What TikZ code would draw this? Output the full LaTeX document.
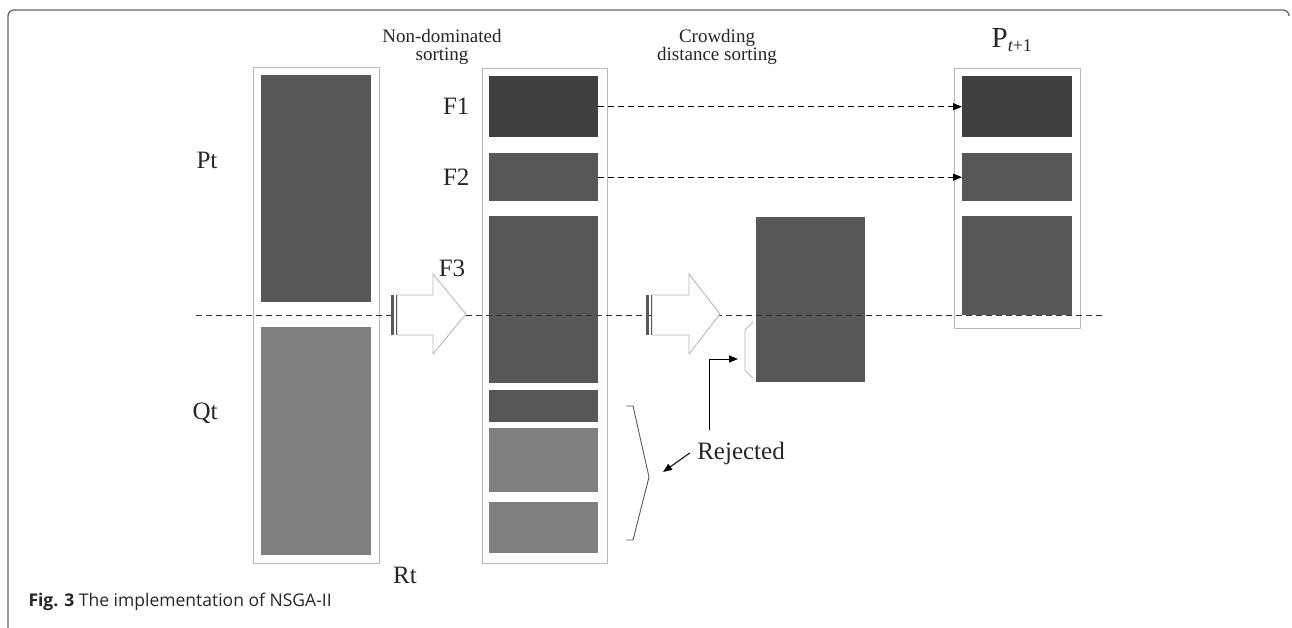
\documentclass[tikz,border=0pt]{standalone}
\usepackage{fontspec}
\setmainfont{Liberation Serif}
\newfontfamily\capfont{Open Sans}
\usetikzlibrary{positioning,arrows.meta}

\tikzset{
  popbox/.style={draw=gray!55, line width=0.9pt, inner sep=0pt, anchor=north west},
  blk/.style={fill=#1, inner sep=0pt, anchor=north west},
  lbl/.style={font=\fontsize{25}{27}\selectfont, text=black!85},
  small/.style={font=\fontsize{19}{22}\selectfont, text=black!85, align=center},
  bigarrow/.style={draw=gray!55, line width=0.9pt, fill=white},
}
\definecolor{darkblk}{HTML}{404040}
\definecolor{midblk}{HTML}{575757}
\definecolor{greyblk}{HTML}{7F7F7F}

\begin{document}
\begin{tikzpicture}[x=1pt, y=-1pt, >={Triangle[length=9pt,width=7pt]}]
  \useasboundingbox (0,0) rectangle (1292,628);
  % Rahmen
  \draw[gray!80!black, line width=1.3pt, rounded corners=6pt] (8,628) |- (1289,10) -- (1289,16);

  % Rt (Pt + Qt)
  \node[popbox, minimum width=126pt, minimum height=496pt] (rt) at (253,67) {};
  \node[blk=midblk, minimum width=110pt, minimum height=227pt] (pt) at (261,75) {};
  \node[blk=greyblk, minimum width=110pt, minimum height=228pt] (qt) at (261,327) {};
  \node[lbl] (ptlbl) at (207,160) {Pt};
  \node[lbl] (qtlbl) at (205,413) {Qt};
  \node[lbl] (rtlbl) at (405,575) {Rt};

  % Fronten
  \node[small] (nds) at (442,47) {Non-dominated\\[-4pt]sorting};
  \node[popbox, minimum width=125pt, minimum height=495pt] (fronts) at (482,68) {};
  \node[blk=darkblk, minimum width=109pt, minimum height=61pt] (f1) at (489,76) {};
  \node[blk=midblk, minimum width=109pt, minimum height=48pt] (f2) at (489,153) {};
  \node[blk=midblk, minimum width=109pt, minimum height=167pt] (f3) at (489,216) {};
  \node[blk=midblk, minimum width=109pt, minimum height=32pt] (f4) at (489,390) {};
  \node[blk=greyblk, minimum width=109pt, minimum height=64pt] (f5) at (489,428) {};
  \node[blk=greyblk, minimum width=109pt, minimum height=51pt] (f6) at (489,502) {};
  \node[lbl, left=16pt of f1] (f1lbl) {F1};
  \node[lbl, left=16pt of f2] (f2lbl) {F2};
  \node[lbl] (f3lbl) at (452,268) {F3};

  % Crowding distance
  \node[small] (cds) at (717,47) {Crowding\\[-4pt]distance sorting};
  \node[blk=midblk, minimum width=109pt, minimum height=165pt] (crowd) at (756,217) {};

  % P_{t+1}
  \node[font=\fontsize{29}{30}\selectfont, text=black!85] (plbl) at (1012,40)
    {P\textsubscript{\fontsize{18}{18}\selectfont\itshape t\upshape+1}};
  \node[popbox, minimum width=126pt, minimum height=260pt] (pnext) at (954,68) {};
  \node[blk=darkblk, minimum width=110pt, minimum height=61pt] (p1) at (962,76) {};
  \node[blk=midblk, minimum width=110pt, minimum height=48pt] (p2) at (962,153) {};
  \node[blk=midblk, minimum width=110pt, minimum height=99pt] (p3) at (962,216) {};

  % Grenze |P| = N
  \draw[dashed, dash pattern=on 6pt off 4pt, line width=0.9pt, black!80] (196,315) -- (1103,315);

  % Blockpfeile
  \foreach \bx/\hx/\tx in {391/433/466, 646/689/720}{
    \draw[bigarrow] (\bx+6,295) -- (\hx,295) -- (\hx,274) -- (\tx,314)
      -- (\hx,354) -- (\hx,335) -- (\bx+6,335) -- cycle;
    \fill[gray!70!black] (\bx,295) rectangle (\bx+3,335);
    \draw[gray!70!black, line width=1pt] (\bx+5,295) -- (\bx+5,335);
  }

  % F1, F2 uebernommen
  \draw[->, dashed, dash pattern=on 6pt off 4pt, line width=0.9pt] (f1.east) -- (p1.west);
  \draw[->, dashed, dash pattern=on 6pt off 4pt, line width=0.9pt] (f2.east) -- (p2.west);

  % Klammern
  \draw[gray!70!black, line width=0.9pt] (626,406) -- (633,406) -- (649,477) -- (633,540) -- (626,540);
  \draw[gray!55, line width=0.9pt] (753,322) -- (745,330) -- (745,370) -- (753,378);

  % Rejected
  \node[lbl] (rej) at (741,453) {Rejected};
  \coordinate (brk1) at (663,472);
  \coordinate (elb) at (709,430);
  \coordinate (brk2) at (738,359);
  \draw[->, line width=1pt] (rej.west) ++(-4,0) -- (brk1);
  \draw[->, line width=1pt] (elb) |- (brk2);

  % Bildunterschrift
  \node[anchor=base west, font=\capfont\fontsize{17.5}{20}\selectfont, text=black!85] (cap) at (25,606)
    {\textbf{Fig. 3} The implementation of NSGA-II};
\end{tikzpicture}
\end{document}
